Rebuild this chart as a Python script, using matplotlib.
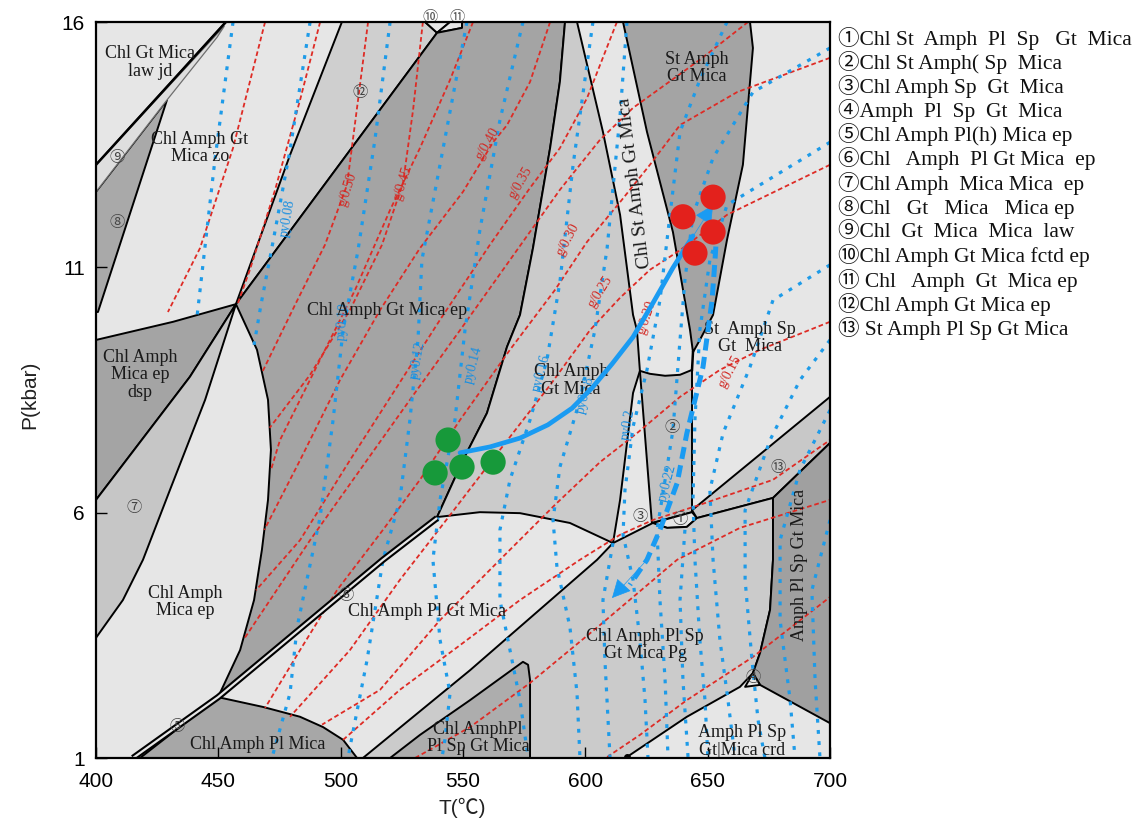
import numpy as np
import matplotlib.pyplot as plt
from matplotlib.patches import Polygon

plt.rcParams['font.family'] = ['Liberation Serif', 'Noto Sans CJK SC', 'DejaVu Sans']
SANS = ['Liberation Sans', 'Noto Sans CJK SC', 'DejaVu Sans']

# ---------------- colours ----------------
LIGHT = '#e6e6e6'
MID = '#cbcbcb'
DARK = '#a4a4a4'
RED = '#de2b25'
BLUE = '#1e9be8'
ARROW = '#1a9bf2'

# ---------------- fields (T degC, P kbar) ----------------
law_jd = [(400, 16), (453.1, 16), (400, 13.09)]
f9 = [(400, 13.09), (452.5, 15.92), (449.5, 15.69), (429.0, 14.41), (400, 12.54)]
f8 = [(400, 12.54), (429.0, 14.41), (400.8, 10.09), (400, 10.09)]
dsp = [(400, 9.52), (431.5, 9.89), (457.2, 10.25), (438.4, 8.77), (400, 6.26)]
f7 = [(400, 6.26), (438.4, 8.77), (457.2, 10.25), (444.6, 8.30), (430.2, 6.46),
      (419.2, 5.04), (411.0, 4.22), (400, 3.45)]
f12 = [(457.2, 10.25), (479.3, 13.29), (500.5, 16), (534.5, 16), (539.4, 15.78)]
f10 = [(534.5, 16), (539.4, 15.78), (544.7, 16)]
f11 = [(544.7, 16), (539.4, 15.78), (549.6, 15.88), (549.6, 16)]
ep_dark = [(457.2, 10.25), (539.4, 15.78), (549.6, 15.88), (549.6, 16), (591.7, 16),
           (589.6, 14.78), (585.6, 13.43), (578.6, 11.39), (573.3, 10.03), (568.0, 9.38),
           (559.8, 8.03), (550.0, 7.07), (539.4, 5.91), (517.3, 5.04), (487.5, 3.81),
           (449.9, 2.24), (458.9, 3.20), (464.6, 4.22), (467.8, 5.24), (470.3, 6.26),
           (471.5, 7.28), (470.3, 8.30), (465.8, 9.32)]
amph_gt = [(539.4, 5.91), (550.0, 7.07), (559.8, 8.03), (568.0, 9.38), (573.3, 10.03),
           (578.6, 11.39), (585.6, 13.43), (589.6, 14.78), (591.7, 16), (596.6, 16),
           (607.2, 13.76), (614.2, 12.07), (619.5, 10.03), (621.1, 9.72), (622.3, 8.89),
           (619.5, 8.44), (614.2, 6.26), (611.3, 5.38), (593.7, 5.79), (573.3, 5.99),
           (556.9, 6.01)]
st_wedge = [(615.4, 16), (667.3, 16), (668.5, 15.47), (664.4, 13.09), (657.9, 11.56),
            (652.2, 10.03), (646.8, 9.52), (644.0, 9.27), (642.8, 9.72), (635.8, 11.72),
            (625.2, 13.76)]
f2 = [(622.3, 8.89), (626.4, 8.83), (632.6, 8.79), (638.7, 8.81), (643.6, 8.91),
      (643.6, 6.01), (627.2, 5.79)]
f1 = [(627.6, 5.79), (633.4, 5.69), (641.5, 5.71), (645.6, 5.89), (643.6, 6.01)]
f13 = [(643.6, 6.05), (700, 8.36), (700, 7.42), (676.7, 6.30), (645.6, 5.89)]
pg = [(509.1, 1.0), (552.9, 2.79), (604.8, 5.04), (611.3, 5.38), (627.6, 5.79),
      (633.4, 5.69), (641.5, 5.71), (645.6, 5.89), (676.7, 6.30), (676.7, 5.04),
      (675.5, 4.02), (671.4, 3.14), (668.5, 2.73), (663.2, 2.45), (641.5, 1.84),
      (617.0, 1.02), (617.0, 1.0)]
amphpl = [(520.2, 1.0), (532.4, 1.47), (552.9, 2.18), (574.5, 2.96), (576.6, 2.90),
          (577.4, 2.59), (577.4, 1.0)]
right_dark = [(676.7, 6.30), (700, 7.42), (700, 1.71), (671.4, 2.49), (668.5, 2.73),
              (671.4, 3.14), (675.5, 4.02), (676.7, 5.04)]
f4 = [(665.3, 2.45), (668.5, 2.73), (671.4, 2.49)]
pl_mica = [(418.0, 1.0), (449.9, 2.24), (468.3, 2.04), (483.4, 1.84), (492.8, 1.63),
           (501.0, 1.37), (506.7, 1.0)]

fields = [
    (law_jd, LIGHT), (f8, '#a9a9a9'), (dsp, DARK), (f7, '#c6c6c6'), (f12, '#cfcfcf'),
    (f10, LIGHT), (f11, LIGHT), (ep_dark, DARK), (amph_gt, MID), (st_wedge, DARK),
    (f2, '#c2c2c2'), (f1, LIGHT), (f13, '#c8c8c8'), (pg, MID), (amphpl, '#adadad'),
    (right_dark, '#a0a0a0'), (f4, LIGHT), (pl_mica, '#a7a7a7'),
]

double_line = [(415.1, 1.0), (449.9, 2.24), (517.3, 5.04), (539.4, 5.89)]
band_tip = [(644.0, 9.27), (643.6, 8.91)]
thick_line = [(400, 13.09), (453.1, 16.0)]

# ---------------- garnet isopleths (red) ----------------
red_lines = [
    [(469.1, 16), (456.0, 13.43), (442.5, 11.39), (429.4, 10.09)],
    [(491.6, 16), (483.4, 14.41), (473.2, 12.58), (462.9, 10.95), (458.0, 10.27)],
    [(511.2, 16), (507.1, 14.41), (502.6, 12.68), (493.6, 11.46), (481.3, 10.23), (468.0, 8.87)],
    [(533.6, 16), (529.6, 14.21), (525.5, 12.72), (516.9, 11.46), (503.8, 10.13),
     (487.5, 8.81), (471.0, 7.73)],
    [(554.1, 16), (544.7, 14.82), (532.4, 13.43), (520.2, 12.17), (505.9, 10.54),
     (489.5, 8.91), (475.2, 7.48), (471.5, 6.87)],
    [(585.6, 16), (577.4, 14.78), (568.0, 13.90), (562.3, 13.55), (550.0, 12.54),
     (532.4, 11.39), (516.1, 10.13), (499.7, 8.70), (483.4, 7.07), (468.8, 5.65)],
    [(612.9, 16), (600.7, 14.45), (589.6, 13.43), (577.4, 12.62), (561.0, 11.46),
     (540.6, 9.93), (522.2, 8.50), (503.8, 7.07), (483.4, 5.44), (465.4, 4.42)],
    [(666.5, 16), (646.8, 15.23), (619.5, 14.25), (606.0, 13.60), (589.6, 12.58),
     (569.2, 11.15), (548.8, 9.72), (528.3, 8.30), (507.9, 6.87), (487.5, 5.44), (460.3, 3.41)],
    [(700, 15.27), (662.0, 14.57), (638.7, 13.90), (626.4, 13.09), (614.2, 12.33),
     (600.7, 11.52), (587.6, 10.54), (569.2, 9.32), (548.8, 7.89), (532.4, 6.67),
     (517.3, 5.65), (498.5, 4.42), (483.4, 3.20), (469.1, 2.02)],
    [(700, 13.09), (657.9, 12.07), (638.7, 11.35), (626.4, 10.95), (614.2, 10.38),
     (601.9, 9.72), (585.6, 8.60), (565.1, 7.28), (544.7, 5.95), (524.2, 4.63),
     (503.8, 3.20), (479.3, 1.84)],
    [(700, 9.89), (671.4, 9.32), (655.0, 8.91), (638.7, 8.36), (621.1, 7.62),
     (606.0, 7.03), (587.6, 6.16), (565.1, 5.04), (540.6, 3.81), (516.1, 2.39), (492.4, 1.68)],
    [(501.0, 1.37), (524.2, 2.39), (548.8, 3.30), (573.3, 4.22), (597.8, 5.04),
     (614.2, 5.55), (627.6, 5.85), (646.8, 6.16), (676.7, 6.67), (700, 7.48)],
    [(530.4, 1.0), (552.9, 1.63), (577.4, 2.53), (606.0, 3.71), (637.5, 5.04),
     (663.2, 5.69), (700, 6.26)],
    [(608.9, 1.02), (622.3, 1.47), (641.5, 2.18), (668.5, 3.06), (700, 4.28)],
]
red_labels = ['g/0.50', 'g/0.45', 'g/0.40', 'g/0.35', 'g/0.30', 'g/0.25', 'g/0.20', 'g/0.15']
red_label_T = [503.0, 525.5, 560.2, 573.3, 592.9, 606.0, 625.2, 659.1]
red_label_P = [12.58, 12.72, 13.53, 12.72, 11.56, 10.50, 9.97, 8.87]
red_label_rot = [72, 72, 60, 60, 62, 58, 72, 62]

# ---------------- pyrope isopleths (blue) ----------------
blue_lines = [
    [(456.0, 16), (448.6, 13.19), (441.3, 10.0)],
    [(487.5, 16), (479.3, 13.39), (472.5, 11.56), (467.4, 10.23), (464.6, 9.42)],
    [(520.2, 16), (514.0, 13.60), (507.1, 11.35), (501.0, 9.72), (496.9, 7.89),
     (491.6, 5.91), (486.2, 4.63), (482.2, 3.67), (479.3, 2.32), (471.9, 1.0)],
    [(551.6, 16), (540.6, 13.09), (533.2, 11.15), (531.6, 9.52), (528.3, 7.89),
     (524.2, 6.26), (517.3, 5.04), (510.8, 3.00), (503.8, 1.22), (503.0, 1.0)],
    [(574.5, 16), (565.1, 14.00), (556.9, 11.76), (550.8, 9.72), (546.7, 7.89),
     (540.6, 6.26), (537.7, 5.04), (540.6, 3.41), (544.7, 2.32), (542.6, 1.37), (541.4, 1.0)],
    [(603.1, 16), (595.0, 13.09), (589.6, 10.70), (584.3, 9.11), (577.4, 7.89),
     (569.2, 6.67), (565.1, 5.65), (565.1, 4.22), (569.2, 3.20), (573.3, 2.18), (576.6, 1.0)],
    [(617.0, 16), (614.2, 14.10), (608.9, 11.39), (603.9, 9.72), (597.8, 8.30),
     (589.6, 6.93), (586.8, 5.85), (588.4, 4.89), (593.7, 3.67), (596.6, 2.32), (597.8, 1.0)],
    [(611.3, 5.38), (607.2, 4.22), (608.0, 3.00), (610.1, 1.0)],
    [(657.9, 16), (646.8, 14.82), (638.7, 13.76), (634.6, 12.07), (630.5, 10.33),
     (625.2, 8.91), (619.5, 7.75), (616.2, 6.46), (615.4, 5.55), (619.5, 4.63),
     (622.3, 3.41), (624.4, 2.18), (625.6, 1.0)],
    [(700, 15.47), (668.5, 14.57), (652.2, 13.23), (644.0, 12.07), (640.7, 10.74),
     (638.7, 9.52), (635.8, 7.68), (632.6, 6.67), (629.3, 5.65), (630.5, 4.22),
     (632.6, 2.59), (633.8, 1.0)],
    [(640.7, 5.65), (638.7, 4.22), (639.9, 2.59), (642.0, 1.0)],
    [(700, 13.55), (657.9, 12.27), (650.9, 11.15), (646.8, 9.72), (644.8, 7.89),
     (644.0, 6.26), (644.8, 5.04), (646.8, 3.41), (648.9, 2.18), (650.1, 1.0)],
    [(700, 11.05), (676.7, 10.33), (667.3, 8.97), (656.3, 7.62), (650.9, 6.46),
     (652.2, 5.04), (655.0, 3.41), (658.3, 2.18), (661.2, 1.0)],
    [(700, 9.52), (687.7, 8.70), (675.5, 7.48), (665.3, 6.05), (665.3, 4.63),
     (668.1, 3.00), (670.6, 1.77), (673.4, 1.0)],
    [(700, 8.09), (687.7, 6.87), (679.6, 5.44), (679.6, 3.81), (683.7, 2.18), (685.7, 1.0)],
    [(700, 5.85), (692.6, 4.42), (693.9, 2.59), (695.9, 1.0)],
]
blue_labels = ['py0.08', 'py0.10', 'py0.12', 'py0.14', 'py0.16', 'py0.18', 'py0.2', 'py0.22']
blue_label_T = [478.5, 500.9, 531.6, 554.1, 581.9, 599.9, 617.4, 633.4]
blue_label_P = [12.01, 9.90, 9.11, 9.01, 8.85, 8.40, 7.79, 6.60]
blue_label_rot = [80, 85, 80, 75, 75, 75, 80, 75]

# ---------------- P-T path and samples ----------------
path_solid = [(548.8, 7.22), (561.0, 7.34), (573.3, 7.52), (584.7, 7.79), (594.6, 8.13),
              (602.7, 8.54), (610.9, 9.03), (619.5, 9.58), (627.6, 10.27), (635.8, 10.99),
              (644.0, 11.64), (652.2, 12.27)]
path_dashed = [(653.8, 11.80), (653.0, 11.15), (651.8, 10.33), (648.1, 8.97), (641.5, 7.62),
               (637.5, 6.60), (630.5, 5.65), (625.2, 5.04), (618.2, 4.53), (610.9, 4.26)]
green_T = [543.9, 538.6, 549.6, 562.3]
green_P = [7.48, 6.81, 6.93, 7.03]
red_T = [652.2, 639.9, 652.2, 644.8]
red_P = [12.43, 12.03, 11.72, 11.29]

# ---------------- field labels ----------------
field_labels = [
    ('Chl Gt Mica\nlaw jd', 422.1, 15.18, 0),
    ('Chl Amph Gt\nMica zo', 442.5, 13.43, 0),
    ('⑨', 408.6, 13.23, 0), ('⑧', 408.6, 11.90, 0), ('⑫', 507.9, 14.55, 0),
    ('Chl Amph Gt Mica ep', 518.9, 10.13, 0),
    ('Chl Amph\nMica ep\ndsp', 418.0, 8.81, 0),
    ('⑦', 415.5, 6.10, 0),
    ('Chl Amph\nMica ep', 436.4, 4.18, 0),
    ('⑥', 502.2, 4.30, 0),
    ('Chl Amph Pl Gt Mica', 535.3, 3.98, 0),
    ('⑤', 433.1, 1.63, 0),
    ('Chl Amph Pl Mica', 466.2, 1.27, 0),
    ('Chl AmphPl\nPl Sp Gt Mica', 556.1, 1.41, 0),
    ('Chl Amph Pl Sp\nGt Mica Pg', 624.4, 3.30, 0),
    ('Amph Pl Sp\nGt|Mica crd', 664.0, 1.33, 0),
    ('Amph Pl Sp Gt Mica', 687.7, 4.93, 90),
    ('⑬', 678.7, 6.91, 0),
    ('St  Amph Sp\nGt  Mica', 667.3, 9.56, 0),
    ('Chl Amph\nGt Mica', 594.1, 8.70, 0),
    ('②', 635.4, 7.73, 0), ('③', 622.3, 5.91, 0), ('①', 638.7, 5.85, 0), ('④', 668.5, 2.63, 0),
    ('St Amph\nGt Mica', 645.6, 15.06, 0),
    ('Chl St Amph Gt Mica', 620.3, 12.72, 97),
]
top_labels = [('⑩', 536.5), ('⑪', 547.5)]

legend_lines = [
    '①Chl St  Amph  Pl  Sp   Gt  Mica',
    '②Chl St Amph( Sp  Mica',
    '③Chl Amph Sp  Gt  Mica',
    '④Amph  Pl  Sp  Gt  Mica',
    '⑤Chl Amph Pl(h) Mica ep',
    '⑥Chl   Amph  Pl Gt Mica  ep',
    '⑦Chl Amph  Mica Mica  ep',
    '⑧Chl   Gt   Mica   Mica ep',
    '⑨Chl  Gt  Mica  Mica  law',
    '⑩Chl Amph Gt Mica fctd ep',
    '⑪ Chl   Amph  Gt  Mica ep',
    '⑫Chl Amph Gt Mica ep',
    '⑬ St Amph Pl Sp Gt Mica',
]

x_ticks = [400, 450, 500, 550, 600, 650, 700]
y_ticks = [1, 6, 11, 16]

# =========================
# figure
# =========================
W, H = 1148, 823
fig = plt.figure(figsize=(W / 100, H / 100), dpi=100)
ax = fig.add_axes([96 / W, 1 - 758 / H, 734 / W, 736 / H])
ax.set_xlim(400, 700)
ax.set_ylim(1, 16)
ax.set_facecolor(LIGHT)

for verts, col in fields:
    ax.add_patch(Polygon(verts, closed=True, facecolor=col, edgecolor='black',
                         lw=1.4, zorder=1, joinstyle='round'))
ax.add_patch(Polygon(f9, closed=True, facecolor='#dedede', edgecolor='#6e6e6e',
                     lw=0.9, zorder=1.1))

for ln in red_lines:
    t, p = zip(*ln)
    ax.plot(t, p, color=RED, lw=1.3, ls=(0, (2.6, 1.6)), zorder=2)
for ln in blue_lines:
    t, p = zip(*ln)
    ax.plot(t, p, color=BLUE, lw=2.3, ls=(0, (1.2, 2.3)), zorder=2)

t, p = zip(*double_line)
ax.plot(t, p, color='black', lw=4.6, zorder=3, solid_capstyle='butt')
ax.plot(t, p, color=LIGHT, lw=1.6, zorder=3.1, solid_capstyle='butt')
for ln in (band_tip, thick_line):
    t, p = zip(*ln)
    ax.plot(t, p, color='black', lw=1.8, zorder=3)
ax.plot([617.0], [1.02], 'o', color='black', ms=4, zorder=3)

for s, T, P, r in zip(red_labels, red_label_T, red_label_P, red_label_rot):
    ax.text(T, P, s, color='#d12a25', fontsize=10, rotation=r, ha='center', va='center', zorder=4)
for s, T, P, r in zip(blue_labels, blue_label_T, blue_label_P, blue_label_rot):
    ax.text(T, P, s, color='#1a8fe0', fontsize=10, rotation=r, ha='center', va='center', zorder=4)

for s, T, P, r in field_labels:
    fs = 11 if len(s) == 1 else 13
    if r == 97:
        fs = 14
    col = '#444444' if len(s) == 1 else '#1a1a1a'
    ax.text(T, P, s, fontsize=fs, rotation=r, ha='center', va='center', color=col,
            linespacing=1.05, zorder=4)
for s, T in top_labels:
    ax.text(T, 16.08, s, fontsize=11, ha='center', va='center', color='#555555', zorder=4)

# P-T path
t, p = zip(*path_solid)
ax.plot(t[:-1], p[:-1], color=ARROW, lw=3.4, zorder=5, solid_capstyle='round')
ax.annotate('', xy=path_solid[-1], xytext=path_solid[-3],
            arrowprops=dict(arrowstyle='-|>', color=ARROW, lw=0.5,
                            mutation_scale=30, shrinkA=0, shrinkB=0), zorder=5)
t, p = zip(*path_dashed)
ax.plot(t[:-1], p[:-1], color=ARROW, lw=3.6, ls=(0, (2.4, 1.3)), zorder=5)
ax.annotate('', xy=path_dashed[-1], xytext=path_dashed[-3],
            arrowprops=dict(arrowstyle='-|>', color=ARROW, lw=0.5,
                            mutation_scale=30, shrinkA=0, shrinkB=0), zorder=5)

ax.scatter(green_T, green_P, s=330, color='#17993a', edgecolors='none', zorder=6)
ax.scatter(red_T, red_P, s=330, color='#e3211c', edgecolors='none', zorder=6)

# axes styling
ax.set_xticks(x_ticks)
ax.set_yticks(y_ticks)
ax.set_xticklabels([str(v) for v in x_ticks], family=SANS, fontsize=15)
ax.set_yticklabels([str(v) for v in y_ticks], family=SANS, fontsize=15)
ax.tick_params(direction='in', length=8, width=1.0, color='black')
ax.tick_params(axis='x', pad=10)
ax.tick_params(axis='y', pad=8)
for sp in ax.spines.values():
    sp.set_linewidth(1.6)
    sp.set_zorder(7)

fig.text(462 / W, 1 - 808 / H, 'T(℃)', family=SANS, fontsize=15, ha='center', va='center',
         color='#222222')
fig.text(30 / W, 1 - 395 / H, 'P(kbar)', family=SANS, fontsize=15, ha='center', va='center',
         rotation=90, color='#222222')

y0, dy = 38, 24.2
for i, s in enumerate(legend_lines):
    fig.text(838 / W, 1 - (y0 + i * dy) / H, s, fontsize=15.5, ha='left', va='center',
             color='#111111')

fig.savefig('out.png', dpi=100)
